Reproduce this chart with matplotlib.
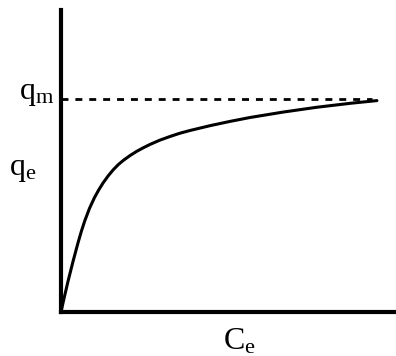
import matplotlib.pyplot as plt

plt.rcParams['mathtext.fontset'] = 'custom'
plt.rcParams['mathtext.rm'] = 'Liberation Serif'
plt.rcParams['mathtext.it'] = 'Liberation Serif'

# Langmuir-type isotherm, read as (C_e, q_e) pairs
ce = [0.0, 0.08, 0.21, 0.36, 0.51, 0.61, 0.71, 0.85, 1.0, 1.13, 1.26,
      1.41, 1.56, 1.71, 1.86, 2.06, 2.26, 2.46, 2.66, 2.95, 3.25, 3.55,
      3.85, 4.45, 5.04, 5.64, 6.63, 7.64, 8.63, 9.43]
qe = [0.0, 0.40, 1.02, 1.68, 2.30, 2.68, 3.02, 3.43, 3.79, 4.05, 4.28,
      4.51, 4.71, 4.88, 5.02, 5.18, 5.32, 5.44, 5.55, 5.69, 5.81, 5.92,
      6.01, 6.17, 6.31, 6.44, 6.62, 6.78, 6.91, 7.00]
qm = 7.05
qm_end = 9.28

fig = plt.figure(figsize=(3.96, 3.56), dpi=100)
ax = fig.add_axes([61 / 396, 44 / 356, 335 / 396, 302 / 356])
ax.set_xlim(0, 10)
ax.set_ylim(0, 10)

ax.plot(ce, qe, color='black', lw=2.2, solid_capstyle='round',
        solid_joinstyle='round')
ax.plot([0, qm_end], [qm, qm], color='black', lw=2.0, dashes=(2.5, 2.5))

for side in ['top', 'right']:
    ax.spines[side].set_visible(False)
for side in ['left', 'bottom']:
    ax.spines[side].set_linewidth(3)
    ax.spines[side].set_capstyle('projecting')
ax.set_xticks([])
ax.set_yticks([])

lab = dict(fontsize=23, color='black', family='Liberation Serif')
ax.text(-0.2, qm + 0.17, r'$\mathrm{q_m}$', ha='right', va='center', **lab)
ax.text(-0.72, 4.72, r'$\mathrm{q_e}$', ha='right', va='center', **lab)
ax.text(5.33, -0.5, r'$\mathrm{C_e}$', ha='center', va='top', **lab)

fig.savefig('out.png', dpi=100)
